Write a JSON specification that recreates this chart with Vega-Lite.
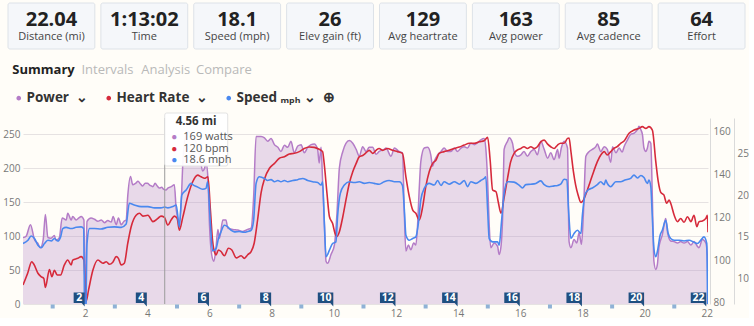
{
  "$schema": "https://vega.github.io/schema/vega-lite/v6.json",
  "background": "#fffdf8",
  "padding": {"left": 2, "top": 2, "right": 0, "bottom": 0},
  "autosize": {"type": "pad"},
  "bounds": "flush",
  "spacing": 0,
  "config": {"view": {"stroke": null}, "font": "Open Sans", "text": {"font": "Open Sans"}},
  "resolve": {"scale": {"color": "independent"}},
  "datasets": {
    "tiles": [
      {"value": "22.04", "label": "Distance (mi)"},
      {"value": "1:13:02", "label": "Time"},
      {"value": "18.1", "label": "Speed (mph)"},
      {"value": "26", "label": "Elev gain (ft)"},
      {"value": "129", "label": "Avg heartrate"},
      {"value": "163", "label": "Avg power"},
      {"value": "85", "label": "Avg cadence"},
      {"value": "64", "label": "Effort"}
    ],
    "tabs": [
      {"tab": "Summary", "active": true},
      {"tab": "Intervals", "active": false},
      {"tab": "Analysis", "active": false},
      {"tab": "Compare", "active": false}
    ],
    "power": [
      {"mile":0.0,"watts":98},{"mile":0.1,"watts":100},{"mile":0.24,"watts":117},{"mile":0.37,"watts":95},{"mile":0.47,"watts":90},{"mile":0.56,"watts":83},{"mile":0.65,"watts":95},{"mile":0.72,"watts":132},{"mile":0.8,"watts":98},{"mile":0.9,"watts":97},{"mile":1.01,"watts":101},{"mile":1.06,"watts":94},{"mile":1.17,"watts":98},{"mile":1.26,"watts":127},{"mile":1.39,"watts":124},{"mile":1.44,"watts":134},{"mile":1.55,"watts":124},{"mile":1.6,"watts":129},{"mile":1.71,"watts":124},{"mile":1.8,"watts":127},{"mile":1.87,"watts":129},{"mile":1.96,"watts":124},{"mile":2.0,"watts":0},{"mile":2.06,"watts":122},{"mile":2.19,"watts":127},{"mile":2.3,"watts":125},{"mile":2.41,"watts":122},{"mile":2.52,"watts":124},{"mile":2.62,"watts":120},{"mile":2.73,"watts":123},{"mile":2.84,"watts":121},{"mile":2.9,"watts":129},{"mile":3.0,"watts":117},{"mile":3.07,"watts":127},{"mile":3.16,"watts":117},{"mile":3.25,"watts":122},{"mile":3.32,"watts":124},{"mile":3.37,"watts":159},{"mile":3.46,"watts":188},{"mile":3.53,"watts":176},{"mile":3.62,"watts":178},{"mile":3.7,"watts":181},{"mile":3.78,"watts":177},{"mile":3.85,"watts":174},{"mile":3.93,"watts":178},{"mile":4.0,"watts":178},{"mile":4.09,"watts":175},{"mile":4.18,"watts":173},{"mile":4.25,"watts":178},{"mile":4.32,"watts":174},{"mile":4.39,"watts":171},{"mile":4.46,"watts":172},{"mile":4.53,"watts":169},{"mile":4.6,"watts":168},{"mile":4.66,"watts":171},{"mile":4.77,"watts":173},{"mile":4.87,"watts":176},{"mile":4.93,"watts":139},{"mile":5.03,"watts":122},{"mile":5.09,"watts":150},{"mile":5.14,"watts":205},{"mile":5.2,"watts":240},{"mile":5.3,"watts":255},{"mile":5.4,"watts":250},{"mile":5.5,"watts":245},{"mile":5.6,"watts":235},{"mile":5.7,"watts":215},{"mile":5.78,"watts":196},{"mile":5.84,"watts":200},{"mile":5.89,"watts":208},{"mile":5.95,"watts":186},{"mile":6.0,"watts":117},{"mile":6.07,"watts":73},{"mile":6.14,"watts":63},{"mile":6.21,"watts":83},{"mile":6.27,"watts":110},{"mile":6.32,"watts":97},{"mile":6.43,"watts":124},{"mile":6.53,"watts":124},{"mile":6.59,"watts":112},{"mile":6.75,"watts":110},{"mile":6.91,"watts":109},{"mile":7.07,"watts":107},{"mile":7.23,"watts":110},{"mile":7.34,"watts":112},{"mile":7.42,"watts":157},{"mile":7.5,"watts":247},{"mile":7.66,"watts":247},{"mile":7.77,"watts":245},{"mile":7.87,"watts":240},{"mile":7.98,"watts":244},{"mile":8.09,"watts":235},{"mile":8.2,"watts":231},{"mile":8.3,"watts":225},{"mile":8.41,"watts":234},{"mile":8.52,"watts":231},{"mile":8.62,"watts":240},{"mile":8.73,"watts":223},{"mile":8.84,"watts":233},{"mile":8.95,"watts":235},{"mile":9.05,"watts":223},{"mile":9.16,"watts":231},{"mile":9.27,"watts":235},{"mile":9.37,"watts":236},{"mile":9.48,"watts":228},{"mile":9.53,"watts":208},{"mile":9.59,"watts":231},{"mile":9.64,"watts":181},{"mile":9.7,"watts":117},{"mile":9.75,"watts":63},{"mile":9.8,"watts":60},{"mile":9.91,"watts":73},{"mile":10.02,"watts":87},{"mile":10.1,"watts":132},{"mile":10.18,"watts":201},{"mile":10.29,"watts":225},{"mile":10.39,"watts":237},{"mile":10.5,"watts":241},{"mile":10.61,"watts":237},{"mile":10.72,"watts":228},{"mile":10.82,"watts":218},{"mile":10.93,"watts":232},{"mile":11.04,"watts":225},{"mile":11.14,"watts":231},{"mile":11.25,"watts":231},{"mile":11.36,"watts":221},{"mile":11.46,"watts":225},{"mile":11.62,"watts":228},{"mile":11.68,"watts":230},{"mile":11.84,"watts":218},{"mile":11.95,"watts":230},{"mile":12.1,"watts":225},{"mile":12.21,"watts":223},{"mile":12.27,"watts":132},{"mile":12.32,"watts":78},{"mile":12.4,"watts":87},{"mile":12.48,"watts":80},{"mile":12.57,"watts":90},{"mile":12.64,"watts":87},{"mile":12.69,"watts":112},{"mile":12.75,"watts":171},{"mile":12.8,"watts":210},{"mile":12.91,"watts":230},{"mile":13.02,"watts":231},{"mile":13.12,"watts":220},{"mile":13.18,"watts":203},{"mile":13.23,"watts":210},{"mile":13.34,"watts":220},{"mile":13.45,"watts":225},{"mile":13.55,"watts":230},{"mile":13.66,"watts":225},{"mile":13.77,"watts":225},{"mile":13.88,"watts":230},{"mile":13.98,"watts":225},{"mile":14.09,"watts":230},{"mile":14.2,"watts":232},{"mile":14.3,"watts":230},{"mile":14.41,"watts":237},{"mile":14.52,"watts":235},{"mile":14.63,"watts":238},{"mile":14.73,"watts":242},{"mile":14.84,"watts":244},{"mile":14.89,"watts":230},{"mile":14.95,"watts":181},{"mile":15.0,"watts":117},{"mile":15.05,"watts":83},{"mile":15.16,"watts":90},{"mile":15.27,"watts":85},{"mile":15.32,"watts":73},{"mile":15.38,"watts":85},{"mile":15.44,"watts":140},{"mile":15.48,"watts":228},{"mile":15.59,"watts":240},{"mile":15.64,"watts":245},{"mile":15.75,"watts":237},{"mile":15.8,"watts":225},{"mile":15.91,"watts":218},{"mile":16.02,"watts":220},{"mile":16.12,"watts":225},{"mile":16.23,"watts":218},{"mile":16.34,"watts":225},{"mile":16.45,"watts":228},{"mile":16.55,"watts":220},{"mile":16.66,"watts":240},{"mile":16.77,"watts":228},{"mile":16.88,"watts":215},{"mile":16.98,"watts":223},{"mile":17.09,"watts":213},{"mile":17.2,"watts":228},{"mile":17.25,"watts":215},{"mile":17.32,"watts":230},{"mile":17.41,"watts":240},{"mile":17.52,"watts":230},{"mile":17.57,"watts":92},{"mile":17.63,"watts":83},{"mile":17.73,"watts":95},{"mile":17.82,"watts":90},{"mile":17.89,"watts":105},{"mile":17.97,"watts":88},{"mile":18.03,"watts":132},{"mile":18.11,"watts":218},{"mile":18.22,"watts":225},{"mile":18.32,"watts":228},{"mile":18.43,"watts":232},{"mile":18.48,"watts":236},{"mile":18.59,"watts":225},{"mile":18.7,"watts":232},{"mile":18.8,"watts":228},{"mile":18.91,"watts":209},{"mile":18.97,"watts":232},{"mile":19.08,"watts":223},{"mile":19.18,"watts":230},{"mile":19.28,"watts":224},{"mile":19.34,"watts":232},{"mile":19.45,"watts":242},{"mile":19.55,"watts":250},{"mile":19.66,"watts":252},{"mile":19.77,"watts":257},{"mile":19.82,"watts":262},{"mile":19.88,"watts":257},{"mile":19.93,"watts":250},{"mile":19.98,"watts":230},{"mile":20.04,"watts":225},{"mile":20.09,"watts":230},{"mile":20.14,"watts":240},{"mile":20.2,"watts":237},{"mile":20.25,"watts":156},{"mile":20.3,"watts":63},{"mile":20.36,"watts":51},{"mile":20.41,"watts":58},{"mile":20.46,"watts":83},{"mile":20.52,"watts":95},{"mile":20.57,"watts":102},{"mile":20.65,"watts":122},{"mile":20.68,"watts":126},{"mile":20.74,"watts":105},{"mile":20.84,"watts":93},{"mile":20.95,"watts":92},{"mile":21.06,"watts":90},{"mile":21.16,"watts":92},{"mile":21.27,"watts":90},{"mile":21.38,"watts":92},{"mile":21.49,"watts":87},{"mile":21.59,"watts":92},{"mile":21.7,"watts":85},{"mile":21.75,"watts":83},{"mile":21.86,"watts":95},{"mile":21.97,"watts":90},{"mile":22.02,"watts":70},{"mile":22.04,"watts":0}
    ],
    "hr": [
      {"mile":0.0,"bpm":88.3},{"mile":0.15,"bpm":93.8},{"mile":0.28,"bpm":99.2},{"mile":0.35,"bpm":98},{"mile":0.48,"bpm":93.8},{"mile":0.58,"bpm":92.2},{"mile":0.67,"bpm":91.4},{"mile":0.72,"bpm":87.2},{"mile":0.85,"bpm":95.6},{"mile":0.93,"bpm":92.2},{"mile":1.01,"bpm":95.2},{"mile":1.1,"bpm":93},{"mile":1.21,"bpm":93},{"mile":1.33,"bpm":97.7},{"mile":1.44,"bpm":100},{"mile":1.55,"bpm":97.7},{"mile":1.6,"bpm":100},{"mile":1.76,"bpm":100.8},{"mile":1.87,"bpm":101.6},{"mile":1.96,"bpm":100},{"mile":2.03,"bpm":80.5},{"mile":2.11,"bpm":86},{"mile":2.25,"bpm":95.3},{"mile":2.41,"bpm":100},{"mile":2.57,"bpm":98.5},{"mile":2.68,"bpm":99.2},{"mile":2.78,"bpm":98},{"mile":2.89,"bpm":99},{"mile":3.0,"bpm":101.6},{"mile":3.07,"bpm":100.8},{"mile":3.16,"bpm":97.7},{"mile":3.26,"bpm":98.5},{"mile":3.37,"bpm":107.8},{"mile":3.48,"bpm":115.6},{"mile":3.64,"bpm":121},{"mile":3.75,"bpm":121.9},{"mile":3.86,"bpm":120.6},{"mile":4.02,"bpm":121},{"mile":4.18,"bpm":118},{"mile":4.34,"bpm":119.5},{"mile":4.44,"bpm":120.6},{"mile":4.55,"bpm":120},{"mile":4.66,"bpm":116.4},{"mile":4.77,"bpm":118.9},{"mile":4.87,"bpm":120.6},{"mile":4.96,"bpm":119.5},{"mile":5.03,"bpm":114},{"mile":5.14,"bpm":120},{"mile":5.3,"bpm":129.7},{"mile":5.46,"bpm":136.7},{"mile":5.62,"bpm":139.8},{"mile":5.73,"bpm":139},{"mile":5.84,"bpm":138.3},{"mile":5.95,"bpm":139},{"mile":6.03,"bpm":123.4},{"mile":6.1,"bpm":109},{"mile":6.18,"bpm":103},{"mile":6.21,"bpm":102.4},{"mile":6.29,"bpm":104.7},{"mile":6.37,"bpm":104},{"mile":6.48,"bpm":102},{"mile":6.61,"bpm":105.5},{"mile":6.72,"bpm":104.7},{"mile":6.86,"bpm":101},{"mile":7.02,"bpm":102},{"mile":7.12,"bpm":100.8},{"mile":7.23,"bpm":102.5},{"mile":7.34,"bpm":104},{"mile":7.44,"bpm":108},{"mile":7.55,"bpm":119},{"mile":7.66,"bpm":131.5},{"mile":7.77,"bpm":138},{"mile":7.93,"bpm":143},{"mile":8.09,"bpm":145.3},{"mile":8.25,"bpm":147.7},{"mile":8.41,"bpm":148.4},{"mile":8.57,"bpm":149.7},{"mile":8.73,"bpm":150},{"mile":8.89,"bpm":150.8},{"mile":9.05,"bpm":152.3},{"mile":9.21,"bpm":153},{"mile":9.37,"bpm":152.8},{"mile":9.53,"bpm":151.9},{"mile":9.64,"bpm":150.8},{"mile":9.69,"bpm":145.3},{"mile":9.78,"bpm":131.3},{"mile":9.86,"bpm":120.3},{"mile":9.96,"bpm":117.2},{"mile":10.04,"bpm":112.5},{"mile":10.1,"bpm":111},{"mile":10.18,"bpm":113.3},{"mile":10.29,"bpm":120.3},{"mile":10.39,"bpm":128.1},{"mile":10.5,"bpm":136},{"mile":10.61,"bpm":141.4},{"mile":10.72,"bpm":145.3},{"mile":10.82,"bpm":148.4},{"mile":10.93,"bpm":149},{"mile":11.04,"bpm":150.3},{"mile":11.14,"bpm":151.4},{"mile":11.25,"bpm":150},{"mile":11.36,"bpm":151.4},{"mile":11.46,"bpm":152.3},{"mile":11.57,"bpm":151.4},{"mile":11.73,"bpm":152.3},{"mile":11.89,"bpm":151.4},{"mile":12.05,"bpm":150.8},{"mile":12.21,"bpm":150},{"mile":12.32,"bpm":139},{"mile":12.43,"bpm":129.7},{"mile":12.54,"bpm":123.4},{"mile":12.64,"bpm":121.9},{"mile":12.75,"bpm":118.8},{"mile":12.86,"bpm":125},{"mile":12.96,"bpm":134.4},{"mile":13.07,"bpm":141.4},{"mile":13.18,"bpm":145.3},{"mile":13.29,"bpm":146.9},{"mile":13.39,"bpm":150},{"mile":13.55,"bpm":150.8},{"mile":13.71,"bpm":151.4},{"mile":13.88,"bpm":152.3},{"mile":14.04,"bpm":153},{"mile":14.2,"bpm":153.9},{"mile":14.36,"bpm":154.7},{"mile":14.52,"bpm":154.7},{"mile":14.68,"bpm":155.4},{"mile":14.84,"bpm":155.9},{"mile":14.95,"bpm":157.5},{"mile":15.03,"bpm":146.9},{"mile":15.11,"bpm":132.8},{"mile":15.22,"bpm":132},{"mile":15.29,"bpm":127.3},{"mile":15.38,"bpm":122},{"mile":15.48,"bpm":129.3},{"mile":15.59,"bpm":138.3},{"mile":15.69,"bpm":146},{"mile":15.8,"bpm":150},{"mile":15.91,"bpm":151.6},{"mile":16.02,"bpm":152.3},{"mile":16.12,"bpm":153.1},{"mile":16.23,"bpm":152.3},{"mile":16.34,"bpm":153.1},{"mile":16.45,"bpm":152.3},{"mile":16.55,"bpm":153.1},{"mile":16.66,"bpm":155.4},{"mile":16.77,"bpm":156.2},{"mile":16.88,"bpm":154.3},{"mile":16.98,"bpm":153.1},{"mile":17.09,"bpm":152.3},{"mile":17.2,"bpm":153.9},{"mile":17.3,"bpm":154.7},{"mile":17.41,"bpm":154.7},{"mile":17.52,"bpm":157},{"mile":17.57,"bpm":157.2},{"mile":17.63,"bpm":150.8},{"mile":17.71,"bpm":141.4},{"mile":17.78,"bpm":135.2},{"mile":17.86,"bpm":130.5},{"mile":17.95,"bpm":127},{"mile":18.03,"bpm":128.1},{"mile":18.14,"bpm":132},{"mile":18.25,"bpm":136.7},{"mile":18.36,"bpm":141.4},{"mile":18.48,"bpm":146.1},{"mile":18.59,"bpm":149.2},{"mile":18.7,"bpm":150.8},{"mile":18.8,"bpm":149.2},{"mile":18.91,"bpm":150.8},{"mile":19.01,"bpm":152.3},{"mile":19.12,"bpm":153.1},{"mile":19.23,"bpm":154.7},{"mile":19.34,"bpm":155.8},{"mile":19.5,"bpm":159.4},{"mile":19.66,"bpm":160.9},{"mile":19.82,"bpm":161.7},{"mile":19.93,"bpm":162.5},{"mile":20.04,"bpm":161.7},{"mile":20.14,"bpm":162.5},{"mile":20.25,"bpm":160.9},{"mile":20.36,"bpm":146.1},{"mile":20.44,"bpm":136.7},{"mile":20.52,"bpm":131.7},{"mile":20.62,"bpm":130.5},{"mile":20.71,"bpm":126.6},{"mile":20.79,"bpm":128.1},{"mile":20.84,"bpm":126.6},{"mile":20.95,"bpm":121.1},{"mile":21.06,"bpm":118},{"mile":21.16,"bpm":119.5},{"mile":21.27,"bpm":117.7},{"mile":21.38,"bpm":120.3},{"mile":21.49,"bpm":118},{"mile":21.59,"bpm":121},{"mile":21.68,"bpm":115.6},{"mile":21.75,"bpm":118},{"mile":21.86,"bpm":118.3},{"mile":21.97,"bpm":119.5},{"mile":22.02,"bpm":121},{"mile":22.04,"bpm":113}
    ],
    "speed": [
      {"mile":0.0,"mph":14.2},{"mile":0.16,"mph":14.6},{"mile":0.26,"mph":15.1},{"mile":0.37,"mph":14.8},{"mile":0.48,"mph":14.0},{"mile":0.59,"mph":13.7},{"mile":0.69,"mph":14.2},{"mile":0.8,"mph":14.6},{"mile":0.91,"mph":14.5},{"mile":1.01,"mph":14.8},{"mile":1.12,"mph":14.5},{"mile":1.21,"mph":15.0},{"mile":1.28,"mph":16.0},{"mile":1.39,"mph":16.15},{"mile":1.55,"mph":16.0},{"mile":1.71,"mph":16.15},{"mile":1.87,"mph":16.2},{"mile":1.95,"mph":16.0},{"mile":2.0,"mph":0},{"mile":2.06,"mph":14.2},{"mile":2.14,"mph":16.0},{"mile":2.3,"mph":16.0},{"mile":2.51,"mph":15.95},{"mile":2.73,"mph":16.15},{"mile":2.94,"mph":16.2},{"mile":3.16,"mph":16.15},{"mile":3.32,"mph":16.55},{"mile":3.42,"mph":19.05},{"mile":3.58,"mph":18.85},{"mile":3.8,"mph":18.65},{"mile":4.02,"mph":18.65},{"mile":4.23,"mph":18.5},{"mile":4.44,"mph":18.5},{"mile":4.56,"mph":18.6},{"mile":4.66,"mph":18.5},{"mile":4.82,"mph":18.65},{"mile":4.93,"mph":18.85},{"mile":5.03,"mph":16.2},{"mile":5.11,"mph":20.05},{"mile":5.25,"mph":20.65},{"mile":5.41,"mph":21.45},{"mile":5.46,"mph":21.3},{"mile":5.62,"mph":21.0},{"mile":5.78,"mph":20.75},{"mile":5.89,"mph":20.85},{"mile":5.94,"mph":21.65},{"mile":6.03,"mph":16.6},{"mile":6.1,"mph":13.3},{"mile":6.21,"mph":13.6},{"mile":6.29,"mph":14.8},{"mile":6.37,"mph":15.6},{"mile":6.48,"mph":16.4},{"mile":6.59,"mph":16.2},{"mile":6.69,"mph":15.8},{"mile":6.8,"mph":15.6},{"mile":6.96,"mph":15.65},{"mile":7.12,"mph":15.55},{"mile":7.23,"mph":15.65},{"mile":7.34,"mph":15.8},{"mile":7.42,"mph":17.0},{"mile":7.5,"mph":21.45},{"mile":7.6,"mph":22.25},{"mile":7.77,"mph":22.05},{"mile":7.87,"mph":21.8},{"mile":7.98,"mph":21.9},{"mile":8.09,"mph":21.65},{"mile":8.2,"mph":21.8},{"mile":8.3,"mph":21.65},{"mile":8.41,"mph":21.8},{"mile":8.52,"mph":21.65},{"mile":8.68,"mph":21.8},{"mile":8.84,"mph":21.9},{"mile":9.0,"mph":22.05},{"mile":9.16,"mph":21.8},{"mile":9.32,"mph":21.65},{"mile":9.48,"mph":21.55},{"mile":9.59,"mph":21.25},{"mile":9.64,"mph":21.65},{"mile":9.7,"mph":16.2},{"mile":9.75,"mph":12.6},{"mile":9.86,"mph":13.4},{"mile":9.96,"mph":14.2},{"mile":10.07,"mph":14.4},{"mile":10.12,"mph":17.4},{"mile":10.21,"mph":20.25},{"mile":10.34,"mph":21.25},{"mile":10.5,"mph":21.65},{"mile":10.66,"mph":21.55},{"mile":10.82,"mph":21.65},{"mile":10.98,"mph":21.45},{"mile":11.14,"mph":21.55},{"mile":11.3,"mph":21.45},{"mile":11.46,"mph":21.35},{"mile":11.62,"mph":21.65},{"mile":11.78,"mph":21.8},{"mile":11.95,"mph":21.65},{"mile":12.11,"mph":21.65},{"mile":12.21,"mph":21.2},{"mile":12.27,"mph":18.25},{"mile":12.32,"mph":15.2},{"mile":12.43,"mph":14.6},{"mile":12.54,"mph":14.8},{"mile":12.64,"mph":15.0},{"mile":12.72,"mph":16.6},{"mile":12.8,"mph":19.45},{"mile":12.91,"mph":20.85},{"mile":13.07,"mph":21.45},{"mile":13.23,"mph":21.25},{"mile":13.34,"mph":21.8},{"mile":13.45,"mph":21.2},{"mile":13.55,"mph":21.65},{"mile":13.71,"mph":21.35},{"mile":13.88,"mph":21.65},{"mile":14.04,"mph":21.35},{"mile":14.2,"mph":21.8},{"mile":14.3,"mph":21.05},{"mile":14.41,"mph":21.65},{"mile":14.57,"mph":21.45},{"mile":14.73,"mph":21.8},{"mile":14.84,"mph":22.05},{"mile":14.89,"mph":22.25},{"mile":14.95,"mph":18.25},{"mile":15.0,"mph":14.8},{"mile":15.11,"mph":14.4},{"mile":15.27,"mph":14.4},{"mile":15.32,"mph":14.0},{"mile":15.4,"mph":17.0},{"mile":15.48,"mph":20.25},{"mile":15.59,"mph":21.65},{"mile":15.64,"mph":21.65},{"mile":15.8,"mph":21.6},{"mile":15.96,"mph":21.25},{"mile":16.07,"mph":20.9},{"mile":16.18,"mph":21.3},{"mile":16.34,"mph":21.35},{"mile":16.5,"mph":21.45},{"mile":16.66,"mph":21.75},{"mile":16.77,"mph":21.3},{"mile":16.93,"mph":21.05},{"mile":17.09,"mph":21.15},{"mile":17.2,"mph":21.2},{"mile":17.3,"mph":21.35},{"mile":17.41,"mph":21.95},{"mile":17.5,"mph":21.9},{"mile":17.55,"mph":18.45},{"mile":17.63,"mph":14.8},{"mile":17.73,"mph":15.4},{"mile":17.84,"mph":15.8},{"mile":17.95,"mph":15.4},{"mile":18.0,"mph":17.65},{"mile":18.08,"mph":20.05},{"mile":18.18,"mph":20.65},{"mile":18.32,"mph":20.9},{"mile":18.48,"mph":21.3},{"mile":18.59,"mph":21.65},{"mile":18.7,"mph":21.3},{"mile":18.75,"mph":21.85},{"mile":18.8,"mph":21.45},{"mile":18.91,"mph":21.05},{"mile":19.07,"mph":21.65},{"mile":19.23,"mph":21.65},{"mile":19.37,"mph":21.85},{"mile":19.55,"mph":22.05},{"mile":19.66,"mph":22.45},{"mile":19.77,"mph":22.1},{"mile":19.88,"mph":22.4},{"mile":19.98,"mph":22.15},{"mile":20.09,"mph":21.45},{"mile":20.14,"mph":21.85},{"mile":20.2,"mph":21.05},{"mile":20.25,"mph":17.25},{"mile":20.3,"mph":13.6},{"mile":20.36,"mph":12.6},{"mile":20.41,"mph":13.2},{"mile":20.5,"mph":15.2},{"mile":20.57,"mph":15.8},{"mile":20.68,"mph":17.0},{"mile":20.76,"mph":15.4},{"mile":20.84,"mph":14.8},{"mile":20.95,"mph":14.6},{"mile":21.11,"mph":14.6},{"mile":21.27,"mph":14.5},{"mile":21.43,"mph":14.6},{"mile":21.59,"mph":14.35},{"mile":21.7,"mph":14.2},{"mile":21.81,"mph":14.6},{"mile":21.91,"mph":15.0},{"mile":22.0,"mph":14.2},{"mile":22.04,"mph":0}
    ],
    "laps": [
      {"mile":2},{"mile":4},{"mile":6},{"mile":8},{"mile":10},{"mile":12},{"mile":14},{"mile":16},{"mile":18},{"mile":20},{"mile":22}
    ],
    "odd": [
      {"mile":1},{"mile":3},{"mile":5},{"mile":7},{"mile":9},{"mile":11},{"mile":13},{"mile":15},{"mile":17},{"mile":19},{"mile":21}
    ],
    "tip": [
      {"mile":4.56,"row":"title","label":"4.56 mi"},
      {"mile":4.56,"row":"Power","label":"169 watts"},
      {"mile":4.56,"row":"Heart Rate","label":"120 bpm"},
      {"mile":4.56,"row":"Speed","label":"18.6 mph"}
    ]
  },
  "vconcat": [
    {
      "width": 722,
      "height": 46,
      "data": {"name": "tiles"},
      "encoding": {
        "x": {"field": "label", "type": "nominal", "sort": null, "axis": null,
              "scale": {"type": "band", "range": [-15, 722], "paddingInner": 0.065, "paddingOuter": 0}}
      },
      "layer": [
        {"mark": {"type": "rect", "fill": "#f5f7fa", "stroke": "#dde2e8", "strokeWidth": 1, "cornerRadius": 2}},
        {"mark": {"type": "text", "fontSize": 20, "fontWeight": "bold", "color": "#222222", "baseline": "middle", "dy": -6},
         "encoding": {"text": {"field": "value", "type": "nominal"}}},
        {"mark": {"type": "text", "fontSize": 11, "color": "#444444", "baseline": "middle", "dy": 11},
         "encoding": {"text": {"field": "label", "type": "nominal"}}}
      ]
    },
    {
      "width": 300,
      "height": 69,
      "data": {"name": "tabs"},
      "layer": [
        {"transform": [{"filter": "datum.active"}],
         "mark": {"type": "text", "fontSize": 13, "fontWeight": "bold", "color": "#222222", "baseline": "middle", "dy": -13.5},
         "encoding": {
           "x": {"field": "tab", "type": "nominal", "axis": null, "scale": {"type": "point", "range": [0, 41], "padding": 0}},
           "text": {"field": "tab", "type": "nominal"}}},
        {"transform": [{"filter": "!datum.active"}],
         "mark": {"type": "text", "fontSize": 13, "color": "#b9b9b9", "baseline": "middle", "dy": -13.5},
         "encoding": {
           "x": {"field": "tab", "type": "nominal", "sort": null, "axis": null, "scale": {"type": "point", "range": [84.5, 201], "padding": 0}},
           "text": {"field": "tab", "type": "nominal"}}}
      ],
      "resolve": {"scale": {"x": "independent"}}
    },
    {
      "width": 685,
      "height": 186,
      "encoding": {
        "x": {"field": "mile", "type": "quantitative",
              "scale": {"domain": [0, 22.04], "nice": false, "zero": false},
              "axis": {"values": [2, 4, 6, 8, 10, 12, 14, 16, 18, 20, 22], "title": null, "domain": false, "ticks": false, "grid": false,
                       "labelColor": "#777777", "labelFontSize": 10, "labelPadding": 4, "labelFlush": false, "labelFont": "Open Sans"}}
      },
      "layer": [
        {
          "data": {"name": "power"},
          "encoding": {
            "y": {"field": "watts", "type": "quantitative",
                  "scale": {"domain": [0, 274.3], "nice": false},
                  "axis": {"orient": "left", "values": [0, 50, 100, 150, 200, 250], "title": null, "domain": false, "ticks": false,
                           "grid": true, "gridColor": "#e6e2e2", "labelColor": "#777777", "labelFontSize": 10, "labelPadding": 3, "labelFont": "Open Sans"}}
          },
          "layer": [
            {"mark": {"type": "area", "fill": "#b288c6", "fillOpacity": 0.3, "interpolate": "monotone", "clip": true}},
            {"mark": {"type": "line", "strokeWidth": 1.5, "interpolate": "monotone", "clip": true},
             "encoding": {
               "color": {"datum": "Power", "type": "nominal",
                         "scale": {"domain": ["Power", "Heart Rate", "Speed"], "range": ["#b47cc7", "#d62a3b", "#4a88ef"]},
                         "legend": {"orient": "none", "legendX": -11, "legendY": -27, "direction": "horizontal", "title": null,
                                    "symbolType": "circle", "symbolSize": 6, "symbolStrokeWidth": 2.2, "symbolOpacity": 1,
                                    "labelFont": "Open Sans", "labelFontSize": 13.5, "labelFontWeight": "bold", "labelColor": "#333333",
                                    "labelOffset": 1, "columnPadding": 13, "padding": 0,
                                    "labelExpr": "datum.label === 'Speed' ? 'Speed ₘₚₕ\u00a0⌄\u00a0\u00a0⊕' : datum.label + '\u00a0\u00a0⌄'"}}
             }}
          ]
        },
        {
          "data": {"name": "hr"},
          "mark": {"type": "line", "strokeWidth": 1.6, "interpolate": "monotone", "clip": true},
          "encoding": {
            "y": {"field": "bpm", "type": "quantitative",
                  "scale": {"domain": [79.4, 166.56], "nice": false, "zero": false},
                  "axis": {"orient": "right", "values": [80, 100, 120, 140, 160], "title": null, "domain": true, "domainColor": "#dadada",
                           "ticks": false, "grid": false, "labelColor": "#777777", "labelFontSize": 10, "labelPadding": 3, "offset": 2, "labelFont": "Open Sans"}},
            "color": {"datum": "Heart Rate", "type": "nominal"}
          }
        },
        {
          "data": {"name": "speed"},
          "mark": {"type": "line", "strokeWidth": 1.6, "interpolate": "monotone", "clip": true},
          "encoding": {
            "y": {"field": "mph", "type": "quantitative",
                  "scale": {"domain": [6.9, 29.34], "nice": false, "zero": false},
                  "axis": {"orient": "right", "values": [10, 15, 20, 25], "title": null, "domain": true, "domainColor": "#dadada",
                           "ticks": false, "grid": false, "labelColor": "#777777", "labelFontSize": 10, "labelPadding": 3, "offset": 26, "labelFont": "Open Sans"}},
            "color": {"datum": "Speed", "type": "nominal"}
          }
        },
        {
          "data": {"name": "tip"},
          "transform": [{"filter": "datum.row === 'title'"}],
          "mark": {"type": "rule", "color": "#9c9c9c", "strokeWidth": 1},
          "encoding": {}
        },
        {
          "data": {"name": "laps"},
          "transform": [{"filter": "datum.mile < 10"}],
          "layer": [
            {"mark": {"type": "point", "shape": "M-11.5,-11.5H-0.5V2.5L-3.5,-1H-11.5Z", "size": 4, "filled": true, "fill": "#1f4f80", "opacity": 1, "strokeWidth": 0},
             "encoding": {"y": {"value": "height"}}},
            {"mark": {"type": "text", "color": "#ffffff", "fontSize": 10.5, "fontWeight": "bold", "align": "center", "baseline": "middle", "dx": -6, "dy": -6.3},
             "encoding": {"y": {"value": "height"}, "text": {"field": "mile", "type": "nominal"}}}
          ]
        },
        {
          "data": {"name": "laps"},
          "transform": [{"filter": "datum.mile >= 10"}],
          "layer": [
            {"mark": {"type": "point", "shape": "M-16,-11.5H-0.5V2.5L-3.5,-1H-16Z", "size": 4, "filled": true, "fill": "#1f4f80", "opacity": 1, "strokeWidth": 0},
             "encoding": {"y": {"value": "height"}}},
            {"mark": {"type": "text", "color": "#ffffff", "fontSize": 10.5, "fontWeight": "bold", "align": "center", "baseline": "middle", "dx": -8.3, "dy": -6.3},
             "encoding": {"y": {"value": "height"}, "text": {"field": "mile", "type": "nominal"}}}
          ]
        },
        {
          "data": {"name": "odd"},
          "mark": {"type": "point", "shape": "M-3.4,0.5H0.6V4.5H-3.4Z", "size": 4, "filled": true, "fill": "#8fb2d6", "opacity": 1, "strokeWidth": 0},
          "encoding": {"y": {"value": "height"}}
        },
        {
          "data": {"name": "tip"},
          "encoding": {"y": {"value": 0}},
          "layer": [
            {"transform": [{"filter": "datum.row === 'title'"}],
             "mark": {"type": "point", "shape": "M2,-5H61Q63,-5 63,-3V46Q63,48 61,48H2Q0,48 0,46V-3Q0,-5 2,-5Z", "size": 4, "filled": true, "fill": "#ffffff", "fillOpacity": 0.95, "stroke": "#e3e3e3", "strokeWidth": 1, "opacity": 1}},
            {"transform": [{"filter": "datum.row === 'title'"}],
             "mark": {"type": "text", "fontSize": 11.5, "fontWeight": "bold", "color": "#333333", "align": "center", "baseline": "middle", "dx": 31.3, "dy": 4},
             "encoding": {"text": {"field": "label", "type": "nominal"}}},
            {"transform": [{"filter": "datum.row === 'Power'"}],
             "mark": {"type": "text", "text": "●", "fontSize": 10, "color": "#b47cc7", "align": "center", "baseline": "middle", "dx": 9.6, "dy": 19.3}},
            {"transform": [{"filter": "datum.row === 'Heart Rate'"}],
             "mark": {"type": "text", "text": "●", "fontSize": 10, "color": "#d62a3b", "align": "center", "baseline": "middle", "dx": 9.6, "dy": 30.7}},
            {"transform": [{"filter": "datum.row === 'Speed'"}],
             "mark": {"type": "text", "text": "●", "fontSize": 10, "color": "#4a88ef", "align": "center", "baseline": "middle", "dx": 9.6, "dy": 41.7}},
            {"transform": [{"filter": "datum.row === 'Power'"}],
             "mark": {"type": "text", "fontSize": 11, "color": "#555555", "align": "left", "baseline": "middle", "dx": 18.6, "dy": 19.3},
             "encoding": {"text": {"field": "label", "type": "nominal"}}},
            {"transform": [{"filter": "datum.row === 'Heart Rate'"}],
             "mark": {"type": "text", "fontSize": 11, "color": "#555555", "align": "left", "baseline": "middle", "dx": 18.6, "dy": 30.7},
             "encoding": {"text": {"field": "label", "type": "nominal"}}},
            {"transform": [{"filter": "datum.row === 'Speed'"}],
             "mark": {"type": "text", "fontSize": 11, "color": "#555555", "align": "left", "baseline": "middle", "dx": 18.6, "dy": 41.7},
             "encoding": {"text": {"field": "label", "type": "nominal"}}}
          ]
        }
      ],
      "resolve": {"scale": {"y": "independent"}, "axis": {"y": "independent"}}
    }
  ]
}
